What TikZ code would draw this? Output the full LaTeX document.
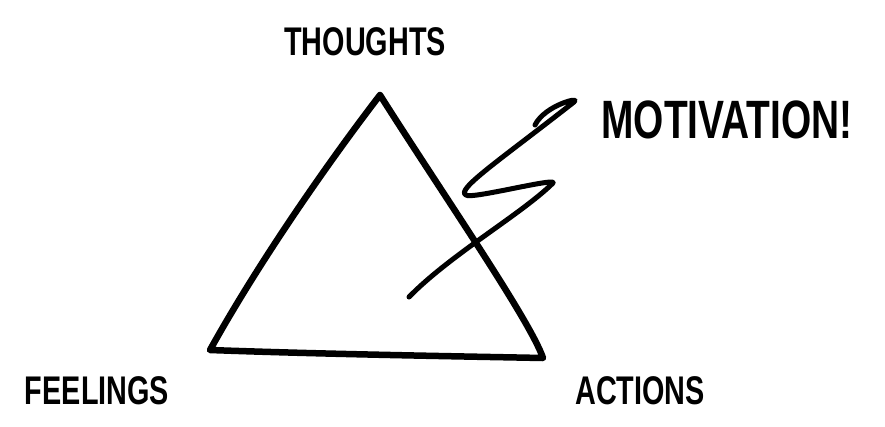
\documentclass[tikz,border=0pt]{standalone}
\usepackage{fontspec}
\setmainfont{Liberation Sans}
\begin{document}
\begin{tikzpicture}[x=1pt,y=-1pt,
  ink/.style={line width=6.5pt,line cap=round,line join=round,black},
  lbl/.style={font=\fontsize{40}{40}\selectfont\bfseries,inner sep=0pt,xscale=0.72}]
\useasboundingbox (0,0) rectangle (885,426);
\coordinate (T) at (380,95);
\coordinate (L) at (210,350);
\coordinate (R) at (543,358);
\draw[ink] (T) .. controls (330,160) and (260,260) .. (L)
  .. controls (320,354) and (440,356) .. (R)
  .. controls (530,320) and (440,190) .. (T);
\coordinate (s0) at (409,297);
\coordinate (s1) at (552,184);
\coordinate (s2) at (466,195);
\coordinate (s3) at (574,102);
\coordinate (s4) at (535,125);
\draw[ink,line width=5pt] (s0) .. controls (450,255) and (520,215) .. (s1)
  .. controls (565,175) and (470,200) .. (s2)
  .. controls (455,190) and (500,160) .. (s3)
  .. controls (582,96) and (545,105) .. (s4);
\node[lbl] (thoughts) at (365,42) {THOUGHTS};
\node[lbl,font=\fontsize{54}{54}\selectfont\bfseries] (motiv) at (727,120) {MOTIVATION!};
\node[lbl] (feelings) at (97,391) {FEELINGS};
\node[lbl] (actions) at (640,391) {ACTIONS};
\end{tikzpicture}
\end{document}
